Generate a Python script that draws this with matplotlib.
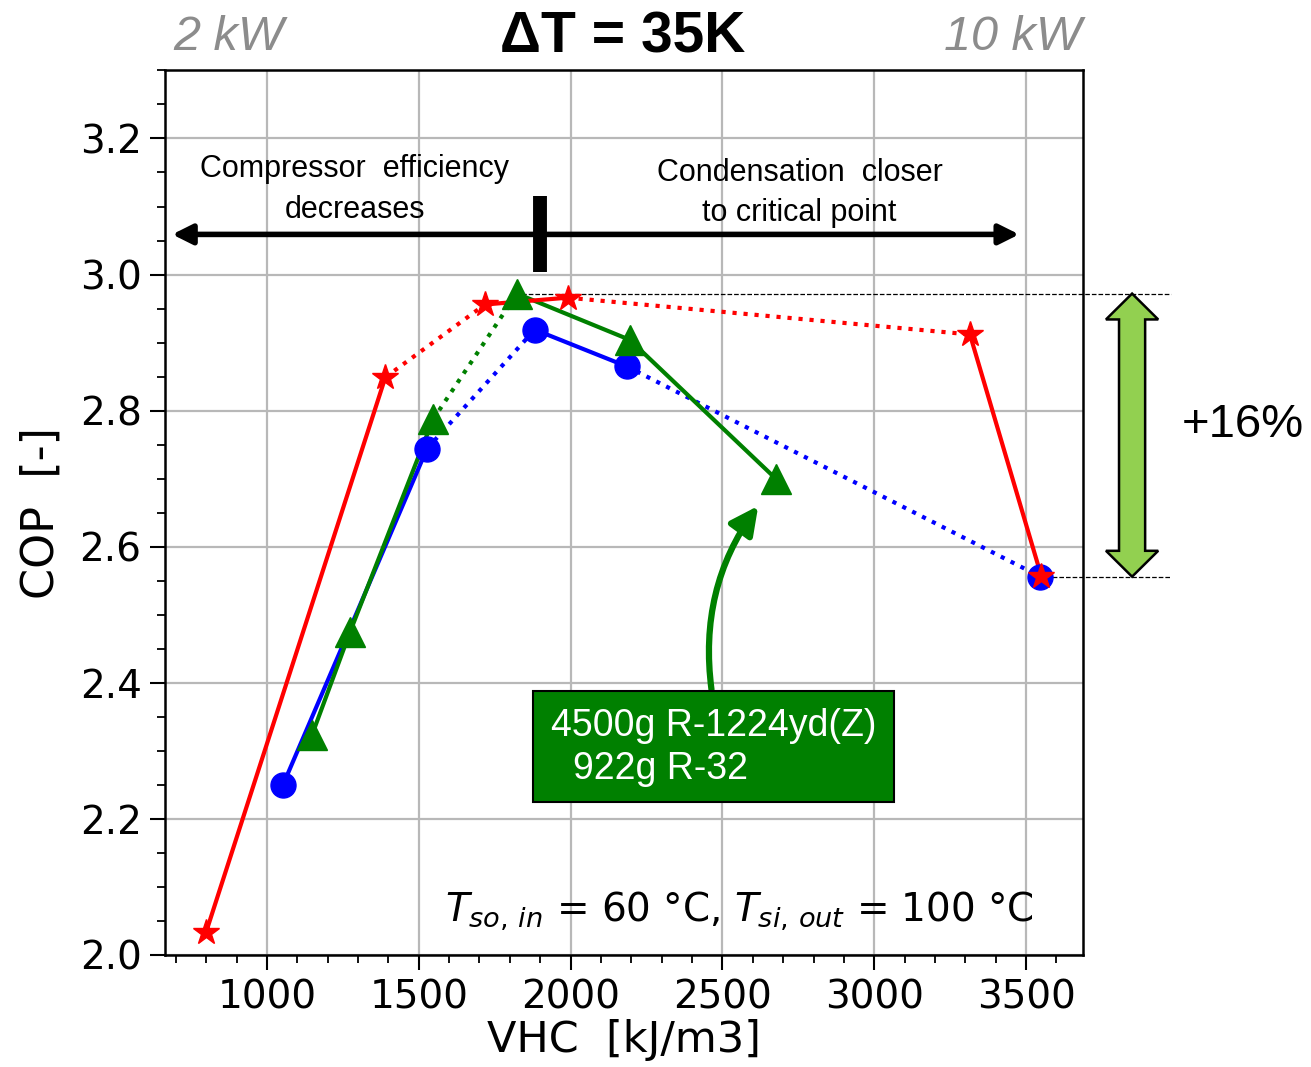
import numpy as np
import matplotlib.pyplot as plt
import matplotlib.patches as mpatches
from matplotlib.ticker import MultipleLocator

# Data: VHC [kJ/m3] vs COP [-]
red_x = [800, 1390, 1718, 1990, 3315, 3550]
red_y = [2.034, 2.849, 2.956, 2.966, 2.912, 2.557]
red_ls = ['-', ':', '-', ':', '-']

blue_x = [1053, 1527, 1882, 2185, 3547]
blue_y = [2.250, 2.744, 2.919, 2.865, 2.556]
blue_ls = ['-', ':', '-', ':']

green_x = [1149, 1274, 1547, 1823, 2195, 2678]
green_y = [2.324, 2.475, 2.787, 2.972, 2.904, 2.699]
green_ls = ['-', '-', ':', '-', '-']

cop_max = 2.972
cop_min = 2.556

plt.rcParams['font.family'] = ['DejaVu Sans']
fig = plt.figure(figsize=(13.11, 10.67), dpi=100)
ax = fig.add_axes([0.126, 0.105, 0.700, 0.829])

series = [(blue_x, blue_y, blue_ls, 'blue', 'o', 18),
          (green_x, green_y, green_ls, 'green', '^', 21),
          (red_x, red_y, red_ls, 'red', '*', 19)]

# lines first, markers after
for x, y, styles, c, m, ms in series:
    for i in range(len(x) - 1):
        ax.plot(x[i:i + 2], y[i:i + 2], color=c, ls=styles[i], lw=3, zorder=3)
for x, y, styles, c, m, ms in series:
    ax.plot(x, y, ls='none', marker=m, ms=ms, color=c, zorder=4)

ax.set_xlim(665, 3687)
ax.set_ylim(2.0, 3.3)
ax.xaxis.set_major_locator(MultipleLocator(500))
ax.xaxis.set_minor_locator(MultipleLocator(100))
ax.yaxis.set_major_locator(MultipleLocator(0.2))
ax.yaxis.set_minor_locator(MultipleLocator(0.05))
ax.grid(True, which='major', color='#b8b8b8', lw=1.6)
ax.set_axisbelow(True)
ax.tick_params(which='major', length=11, width=1.5, labelsize=28, pad=6)
ax.tick_params(which='minor', length=6, width=1.3)
for s in ax.spines.values():
    s.set_linewidth(1.8)
ax.set_xlabel('VHC  [kJ/m3]', fontsize=31, labelpad=2)
ax.set_ylabel('COP  [-]', fontsize=32, labelpad=12)

arial = 'Liberation Sans'

# top texts
fig.text(0.132, 0.965, '2 kW', fontsize=35, style='italic', color='#8c8c8c',
         family=arial, ha='left', va='center')
fig.text(0.825, 0.965, '10 kW', fontsize=35, style='italic', color='#8c8c8c',
         family=arial, ha='right', va='center')
fig.text(0.475, 0.965, 'ΔT = 35K', fontsize=41, weight='bold',
         family=arial, ha='center', va='center')

# region annotations
ax.annotate('', xy=(688, 3.059), xytext=(3477, 3.059),
            arrowprops=dict(arrowstyle='<|-|>', color='black', lw=4,
                            mutation_scale=30, shrinkA=0, shrinkB=0))
ax.plot([1899, 1899], [3.004, 3.115], color='black', lw=10,
        solid_capstyle='butt', zorder=5)
ax.text(1290, 3.125, 'Compressor  efficiency\ndecreases', fontsize=22,
        family=arial, ha='center', va='center', linespacing=1.45)
ax.text(2754, 3.12, 'Condensation  closer\nto critical point', fontsize=22,
        family=arial, ha='center', va='center', linespacing=1.45)

# dashed reference lines for COP spread
ax.plot([1816, 3977], [cop_max, cop_max], color='black', ls='--', lw=0.9,
        clip_on=False, zorder=2)
ax.plot([3543, 3977], [cop_min, cop_min], color='black', ls='--', lw=0.9,
        clip_on=False, zorder=2)

# green double block arrow
xc, bw, hw, hl = 3849, 43, 86, 0.038
pts = [(xc, cop_max), (xc + hw, cop_max - hl), (xc + bw, cop_max - hl),
       (xc + bw, cop_min + hl), (xc + hw, cop_min + hl), (xc, cop_min),
       (xc - hw, cop_min + hl), (xc - bw, cop_min + hl),
       (xc - bw, cop_max - hl), (xc - hw, cop_max - hl)]
ax.add_patch(mpatches.Polygon(pts, closed=True, facecolor='#92D050',
                              edgecolor='black', lw=1.8, clip_on=False))
ax.text(4014, 2.779, '+{:.0f}%'.format((cop_max / cop_min - 1) * 100),
        fontsize=34, family=arial, ha='left', va='center')

# green label box with curved arrow
ax.add_patch(mpatches.Rectangle((1876, 2.225), 1190, 0.163, facecolor='green',
                                edgecolor='black', lw=1.5, zorder=5))
ax.text(1935, 2.336, '4500g R-1224yd(Z)', fontsize=27, family=arial,
        color='white', ha='left', va='center', zorder=6)
ax.text(2007, 2.273, '922g R-32', fontsize=27, family=arial,
        color='white', ha='left', va='center', zorder=6)
ax.annotate('', xy=(2618, 2.660), xytext=(2464, 2.39),
            arrowprops=dict(arrowstyle='-|>', color='green', lw=4.5,
                            mutation_scale=42, shrinkA=0, shrinkB=0,
                            connectionstyle='arc3,rad=-0.2'))

ax.text(3525, 2.065, r'$T_{so,\,in}$ = 60 °C, $T_{si,\,out}$ = 100 °C',
        fontsize=28, ha='right', va='center')

fig.savefig('out.png', dpi=100)
